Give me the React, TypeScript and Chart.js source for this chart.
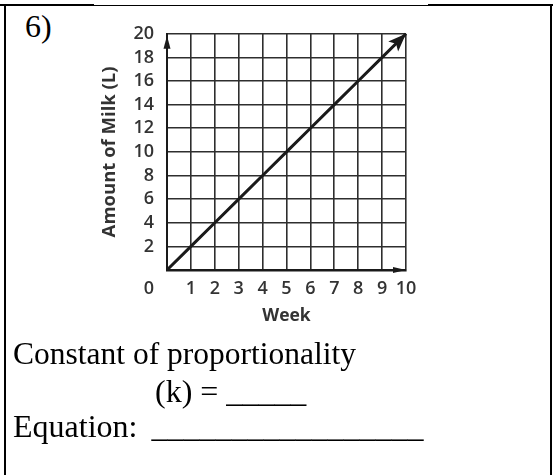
import React, { useEffect, useRef } from "react";
import { Chart, registerables } from "chart.js";

Chart.register(...registerables);

// Amount of milk (litres) after each week
const weeks = [0, 1, 2, 3, 4, 5, 6, 7, 8, 9, 10];
const milkLiters = [0, 2, 4, 6, 8, 10, 12, 14, 16, 18, 20];

// Axis tick labels (the shared origin "0" is drawn once, at the corner)
const xTickValues = [0, 1, 2, 3, 4, 5, 6, 7, 8, 9, 10];
const xTickLabels = ["", "1", "2", "3", "4", "5", "6", "7", "8", "9", "10"];
const yTickValues = [0, 2, 4, 6, 8, 10, 12, 14, 16, 18, 20];
const yTickLabels = ["", "2", "4", "6", "8", "10", "12", "14", "16", "18", "20"];
const originLabel = "0";

const xTitle = "Week";
const yTitle = "Amount of Milk (L)";

const INK = "#1a1a1a";
const GRID = "#2e2e2e";
const LABEL = "#333333";
const SANS = "'Open Sans', 'Noto Sans', sans-serif";
const SERIF = "'Liberation Serif', 'Times New Roman', serif";

function drawHead(
  ctx: CanvasRenderingContext2D,
  tx: number,
  ty: number,
  angle: number,
  len: number,
  half: number,
  notch: number,
  color: string
) {
  ctx.save();
  ctx.translate(tx, ty);
  ctx.rotate(angle);
  ctx.fillStyle = color;
  ctx.beginPath();
  ctx.moveTo(0, 0);
  ctx.lineTo(-len, -half);
  ctx.lineTo(-len + notch, 0);
  ctx.lineTo(-len, half);
  ctx.closePath();
  ctx.fill();
  ctx.restore();
}

const arrowPlugin = {
  id: "arrowHeads",
  afterDatasetsDraw(chart: any) {
    const ctx = chart.ctx as CanvasRenderingContext2D;
    const xs = chart.scales.x;
    const ys = chart.scales.y;
    // arrowhead on the data line, following its direction
    const pts = chart.getDatasetMeta(0).data;
    const end = pts[pts.length - 1];
    const prev = pts[pts.length - 2];
    const ang = Math.atan2(end.y - prev.y, end.x - prev.x);
    drawHead(ctx, end.x, end.y, ang, 18, 7, 4, INK);
    // arrowheads on both axes
    const ox = xs.getPixelForValue(xs.min);
    const oy = ys.getPixelForValue(ys.min);
    drawHead(ctx, ox, ys.getPixelForValue(ys.max) + 2, -Math.PI / 2, 13, 3.5, 0, INK);
    drawHead(ctx, xs.getPixelForValue(xs.max), oy, 0, 13, 3, 0, INK);
  },
  afterDraw(chart: any) {
    const ctx = chart.ctx as CanvasRenderingContext2D;
    const xs = chart.scales.x;
    const ys = chart.scales.y;
    const items = xs.getLabelItems();
    const ref = items[1];
    if (!ref) return;
    ctx.save();
    ctx.font = ref.font.string;
    ctx.fillStyle = LABEL;
    ctx.textAlign = "right";
    ctx.textBaseline = ref.options.textBaseline;
    ctx.fillText(
      originLabel,
      ys.right - ys.options.ticks.padding,
      ref.options.translation[1] + ref.textOffset
    );
    ctx.restore();
  },
};

function MilkChart() {
  const ref = useRef<HTMLCanvasElement | null>(null);
  useEffect(() => {
    if (!ref.current) return;
    const tickFont = { family: SANS, size: 18, weight: "600" };
    const chart = new Chart(ref.current, {
      type: "line",
      data: {
        datasets: [
          {
            data: weeks.map((w, i) => ({ x: w, y: milkLiters[i] })),
            borderColor: INK,
            borderWidth: 3,
            pointRadius: 0,
            fill: false,
            tension: 0,
            clip: 6,
          },
        ],
      },
      options: {
        animation: false,
        responsive: false,
        devicePixelRatio: 1,
        events: [],
        layout: { padding: { left: 30, top: 20, right: 54, bottom: 10 } },
        plugins: {
          legend: { display: false },
          tooltip: { enabled: false },
        },
        scales: {
          x: {
            type: "linear",
            min: xTickValues[0],
            max: xTickValues[xTickValues.length - 1],
            afterFit: (s: any) => {
              s.height = 60;
            },
            afterBuildTicks: (s: any) => {
              s.ticks = xTickValues.map((v) => ({ value: v }));
            },
            grid: { color: GRID, lineWidth: 1.6, drawTicks: false },
            border: { display: true, color: INK, width: 2.5 },
            ticks: {
              autoSkip: false,
              maxRotation: 0,
              padding: 8,
              color: LABEL,
              font: tickFont,
              callback: (v: any) => xTickLabels[xTickValues.indexOf(Number(v))] ?? "",
            },
            title: {
              display: true,
              text: xTitle,
              color: LABEL,
              font: { family: SANS, size: 17.5, weight: "bold" },
              padding: { top: 0, bottom: 3 },
            },
          },
          y: {
            type: "linear",
            min: yTickValues[0],
            max: yTickValues[yTickValues.length - 1],
            afterFit: (s: any) => {
              s.width = 77;
            },
            afterBuildTicks: (s: any) => {
              s.ticks = yTickValues.map((v) => ({ value: v }));
            },
            grid: { color: GRID, lineWidth: 1.6, drawTicks: false },
            border: { display: true, color: INK, width: 2 },
            ticks: {
              autoSkip: false,
              padding: 13,
              color: LABEL,
              font: tickFont,
              callback: (v: any) => yTickLabels[yTickValues.indexOf(Number(v))] ?? "",
            },
            title: {
              display: true,
              text: yTitle,
              color: LABEL,
              font: { family: SANS, size: 18.5, weight: "bold" },
              padding: { top: 9, bottom: 0 },
            },
          },
        },
      },
      plugins: [arrowPlugin],
    } as any);
    return () => chart.destroy();
  }, []);
  return (
    <canvas
      ref={ref}
      width={400}
      height={330}
      style={{ position: "absolute", left: 60, top: 10, width: 400, height: 330 }}
    />
  );
}

const line = (left: number, top: number, width: number, height: number): React.CSSProperties => ({
  position: "absolute",
  left,
  top,
  width,
  height,
  background: "#000",
});

const textAt = (left: number, top: number, extra?: React.CSSProperties): React.CSSProperties => ({
  position: "absolute",
  left,
  top,
  fontFamily: SERIF,
  fontSize: 32,
  lineHeight: "32px",
  color: "#000",
  whiteSpace: "pre",
  ...extra,
});

export default function App() {
  return (
    <div
      style={{
        position: "absolute",
        left: 0,
        top: 0,
        width: 553,
        height: 475,
        background: "#fff",
        overflow: "hidden",
      }}
    >
      <div style={line(0, 4, 94, 2)} />
      <div style={line(94, 5, 334, 1)} />
      <div style={line(428, 4, 125, 2)} />
      <div style={line(4, 4, 2, 471)} />
      <div style={line(550, 4, 2, 471)} />
      <div style={textAt(25, 10)}>6)</div>
      <MilkChart />
      <div style={textAt(13, 338, { fontSize: 31.5 })}>Constant of proportionality</div>
      <div style={textAt(155, 375)}>(k) = _____</div>
      <div style={textAt(13, 410, { wordSpacing: 6 })}>Equation: _________________</div>
    </div>
  );
}
